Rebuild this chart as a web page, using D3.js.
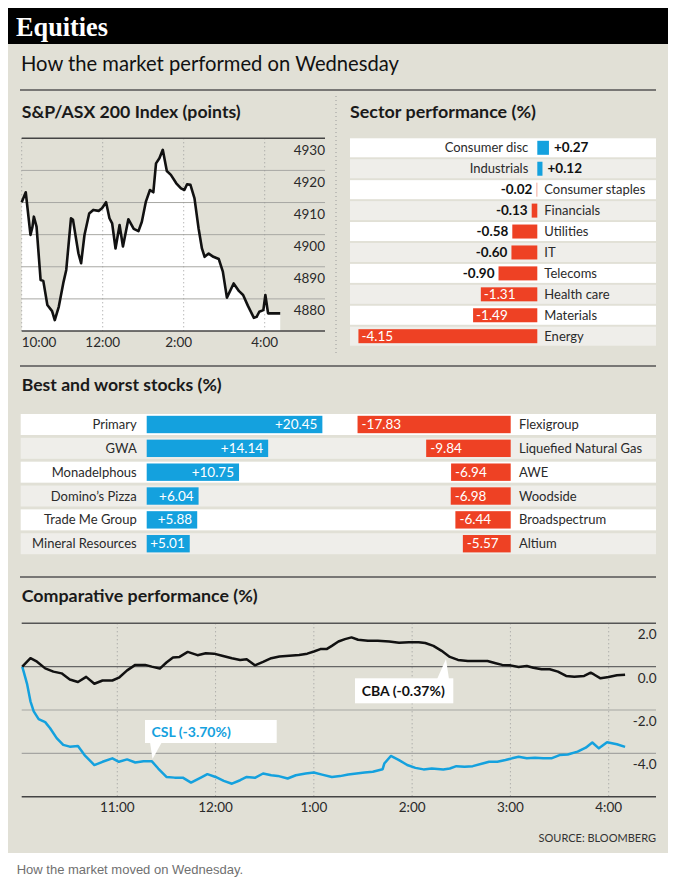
<!DOCTYPE html>
<html><head><meta charset="utf-8">
<script src="https://cdn.jsdelivr.net/npm/d3@7"></script>
<style>body{margin:0;background:#fff}svg{display:block}</style>
</head><body><svg id="c" width="676" height="882"></svg>
<script>
// ---------- DATA ----------
const spMinutes = [0,6,13,16,18,22,28,32,38,45,49,55,62,66,73,76,84,88,93,100,106,114,119,125,130,134,139,145,150,158,166,173,178,184,190,195,199,204,209,215,221,229,236,241,245,250,256,262,267,271,277,284,292,298,304,314,322,328,335,344,348,352,358,361,365,374,383];
const spPoints = [4910.1,4913.2,4899.9,4902.5,4905.6,4902.5,4885.9,4885.6,4878.1,4876.2,4873.4,4877.6,4885.3,4889.0,4905.1,4904.6,4894.2,4891.1,4899.9,4906.6,4907.7,4907.4,4908.2,4910.1,4905.1,4903.5,4895.7,4903.0,4896.3,4904.8,4901.8,4901.1,4904.0,4910.3,4913.9,4913.2,4922.2,4923.8,4926.4,4919.8,4918.6,4916.0,4914.4,4913.9,4915.7,4915.5,4911.3,4902.0,4895.7,4893.1,4894.1,4893.1,4892.4,4888.5,4880.4,4884.8,4882.4,4881.2,4877.9,4874.1,4874.4,4876.0,4876.5,4881.2,4875.5,4875.5,4875.5];
const spYTicks = [4930,4920,4910,4900,4890,4880];
const spXTicks = [0,120,240,360];
const spXLabels = ["10:00","12:00","2:00","4:00"];

const sectors = ["Consumer disc","Industrials","Consumer staples","Financials","Utilities","IT","Telecoms","Health care","Materials","Energy"];
const sectorChange = [0.27,0.12,-0.02,-0.13,-0.58,-0.60,-0.90,-1.31,-1.49,-4.15];

const bestStocks = ["Primary","GWA","Monadelphous","Domino\u2019s Pizza","Trade Me Group","Mineral Resources"];
const bestChange = [20.45,14.14,10.75,6.04,5.88,5.01];
const worstStocks = ["Flexigroup","Liquefied Natural Gas","AWE","Woodside","Broadspectrum","Altium"];
const worstChange = [-17.83,-9.84,-6.94,-6.98,-6.44,-5.57];

const cbaMinutes = [2,7,11,16,21,26,31,36,41,46,51,57,61,66,71,77,81,86,90,94,98,103,109,114,119,124,130,135,139,144,149,154,159,165,171,176,180,184,188,191,195,199,203,207,213,219,226,232,238,244,248,253,258,263,268,274,280,286,291,295,300,305,310,314,319,324,329,334,339,345,349,351,355,360,365,370];
const cbaChange = [0,0.39,0.23,-0.08,-0.23,-0.31,-0.59,-0.71,-0.47,-0.79,-0.64,-0.64,-0.51,-0.17,0.08,0.08,0,-0.09,0.19,0.42,0.45,0.68,0.53,0.62,0.60,0.50,0.39,0.31,0.34,0.06,0.22,0.39,0.47,0.50,0.54,0.60,0.70,0.81,0.82,0.96,1.16,1.27,1.35,1.24,1.19,1.19,1.16,1.10,1.13,1.13,1.09,0.96,0.73,0.45,0.31,0.26,0.26,0.26,0.16,0.08,0.06,-0.02,0.03,-0.05,-0.12,-0.12,-0.23,-0.43,-0.47,-0.43,-0.28,-0.36,-0.54,-0.48,-0.40,-0.37];
const cslMinutes = [2,5,7,9,12,16,19,23,27,31,36,40,46,51,57,61,66,71,76,81,85,90,95,100,105,111,115,120,125,130,135,139,144,149,154,158,164,169,175,180,185,191,196,201,206,211,216,222,223,227,232,237,242,247,252,259,263,267,272,277,283,287,292,297,301,305,310,315,320,325,330,335,341,346,350,354,359,365,370];
const cslChange = [0,-0.82,-1.60,-2.06,-2.42,-2.56,-2.84,-3.30,-3.61,-3.69,-3.66,-4.08,-4.54,-4.39,-4.23,-4.39,-4.28,-4.42,-4.36,-4.36,-4.70,-5.09,-5.12,-5.12,-5.35,-5.12,-4.96,-5.09,-5.27,-5.40,-5.24,-5.09,-5.13,-4.93,-5.01,-5.04,-5.16,-5.01,-4.93,-4.88,-4.98,-5.09,-5.05,-4.98,-4.93,-4.88,-4.85,-4.73,-4.47,-4.12,-4.31,-4.54,-4.67,-4.74,-4.70,-4.74,-4.70,-4.59,-4.62,-4.59,-4.47,-4.39,-4.39,-4.31,-4.23,-4.16,-4.23,-4.20,-4.23,-4.23,-4.08,-4.05,-3.92,-3.74,-3.50,-3.77,-3.49,-3.58,-3.70];
const cpYTicks = [2,0,-2,-4];
const cpXTicks = [60,120,180,240,300,360];
const cpXLabels = ["11:00","12:00","1:00","2:00","3:00","4:00"];

// ---------- STYLE ----------
const FONT = "Lato, 'Open Sans', sans-serif";
const BG = "#e1e0d6", ALT = "#efeeea", BLUE = "#14a1de", RED = "#ee4124", INK = "#2a2a2a";
const fmt = v => (v > 0 ? "+" : "-") + Math.abs(v).toFixed(2);

const svg = d3.select("#c");
svg.append("rect").attr("x",8).attr("y",8).attr("width",660).attr("height",845).attr("fill",BG);
svg.append("rect").attr("x",8).attr("y",8).attr("width",660).attr("height",36).attr("fill","#000");
svg.append("text").attr("x",16).attr("y",36).text("Equities")
  .attr("font-family","'Liberation Serif','DejaVu Serif',serif").attr("font-weight","bold")
  .attr("font-size",27).attr("fill","#fff").attr("textLength",92).attr("lengthAdjust","spacingAndGlyphs");
svg.append("text").attr("x",21).attr("y",71).text("How the market performed on Wednesday")
  .attr("font-family",FONT).attr("font-size",20.5).attr("fill","#111")
  .attr("textLength",378).attr("lengthAdjust","spacingAndGlyphs");

// separators
[90,366,577].forEach(y => svg.append("line").attr("x1",20).attr("x2",656).attr("y1",y).attr("y2",y)
  .attr("stroke","#555").attr("stroke-width",1.3));
svg.append("line").attr("x1",336).attr("x2",336).attr("y1",96).attr("y2",355)
  .attr("stroke","#9a9a9a").attr("stroke-dasharray","1,3");

function heading(x,y,t,w){
  svg.append("text").attr("x",x).attr("y",y).text(t).attr("font-family",FONT)
    .attr("font-weight","bold").attr("font-size",17.5).attr("fill","#1a1a1a")
    .attr("textLength",w).attr("lengthAdjust","spacingAndGlyphs");
}
heading(21.7,118,"S&P/ASX 200 Index (points)",219);
heading(350,118,"Sector performance (%)",186);
heading(21.7,391,"Best and worst stocks (%)",200);
heading(21.7,602,"Comparative performance (%)",236);

// ---------- S&P/ASX 200 ----------
const spX = d3.scaleLinear().domain([0,360]).range([21.7,264.7]);
const spY = d3.scaleLinear().domain([4870,4930]).range([331,138.3]);
const spData = spMinutes.map((m,i)=>({m, v: spPoints[i]}));
const sp = svg.append("g");
sp.append("path").datum(spData).attr("fill","#fff")
  .attr("d", d3.area().x(d=>spX(d.m)).y0(spY(4870)).y1(d=>spY(d.v)));
sp.selectAll("line.g").data([4920,4910,4900,4890,4880]).join("line")
  .attr("x1",21.7).attr("x2",325).attr("y1",d=>spY(d)).attr("y2",d=>spY(d))
  .attr("stroke","#a8a8a4").attr("stroke-width",1);
sp.selectAll("line.v").data(spXTicks).join("line")
  .attr("x1",d=>spX(d)).attr("x2",d=>spX(d)).attr("y1",spY(4930)).attr("y2",spY(4870))
  .attr("stroke","#9a9a9a").attr("stroke-dasharray","1,3");
[4930,4870].forEach(v => sp.append("line").attr("x1",21.7).attr("x2",325).attr("y1",spY(v)).attr("y2",spY(v))
  .attr("stroke","#444").attr("stroke-width",1.4));
sp.append("path").datum(spData).attr("fill","none").attr("stroke","#111").attr("stroke-width",2.6)
  .attr("stroke-linejoin","round").attr("d", d3.line().x(d=>spX(d.m)).y(d=>spY(d.v)));
sp.selectAll("text.y").data(spYTicks).join("text")
  .attr("x",325).attr("y",d=>spY(d)+16.5).attr("text-anchor","end").text(d=>d)
  .attr("font-family",FONT).attr("font-size",13.5).attr("fill",INK);
sp.selectAll("text.x").data(spXTicks).join("text")
  .attr("x",(d,i)=>spX(d)-(i===2?5:0)).attr("y",347).attr("text-anchor",(d,i)=>i===0?"start":"middle")
  .text((d,i)=>spXLabels[i]).attr("font-family",FONT).attr("font-size",13.5).attr("fill",INK);

// ---------- Sector performance ----------
const secY = d3.scaleBand().domain(sectors).range([138.3,345.7]).paddingInner(0.092).paddingOuter(0);
const secX = d3.scaleLinear().domain([-5,1]).range([537.3-5*43.1, 537.3+43.1]);
const sec = svg.append("g");
const secData = sectors.map((s,i)=>({s, v: sectorChange[i], i}));
sec.selectAll("rect.row").data(secData).join("rect")
  .attr("x",350).attr("width",306).attr("y",d=>secY(d.s)).attr("height",secY.bandwidth())
  .attr("fill",d=>d.i%2?ALT:"#fff");
sec.selectAll("rect.bar").data(secData).join("rect")
  .attr("x",d=>secX(Math.min(0,d.v))).attr("width",d=>Math.max(0.9,Math.abs(secX(d.v)-secX(0))))
  .attr("y",d=>secY(d.s)+2.5).attr("height",secY.bandwidth()-5)
  .attr("fill",d=>d.v>0?BLUE:(Math.abs(d.v)<0.05?"#f4a08f":RED));
const secMid = d => secY(d.s)+secY.bandwidth()/2+4.6;
sec.selectAll("text.cat").data(secData).join("text")
  .attr("x",d=>d.v>0?secX(0)-9:secX(0)+7).attr("text-anchor",d=>d.v>0?"end":"start")
  .attr("y",secMid).text(d=>d.s).attr("font-family",FONT).attr("font-size",13).attr("fill",INK);
sec.selectAll("text.val").data(secData).join("text")
  .attr("x",d=>d.v>0?secX(d.v)+5:(d.v<-1?secX(d.v)+3:secX(d.v)-4))
  .attr("text-anchor",d=>d.v>0||d.v<-1?"start":"end")
  .attr("y",secMid).text(d=>fmt(d.v)).attr("font-family",FONT).attr("font-size",13.5)
  .attr("font-weight",d=>d.v<-1?"normal":"bold").attr("fill",d=>d.v<-1?"#fff":"#111");

// ---------- Best and worst ----------
const bwY = d3.scaleBand().domain(d3.range(bestStocks.length)).range([414,554.2]).paddingInner(0.12).paddingOuter(0);
const posX = d3.scaleLinear().domain([0,25]).range([146.7,146.7+25*8.59]);
const negX = d3.scaleLinear().domain([-20,0]).range([510.7-20*8.59,510.7]);
const bw = svg.append("g");
const bwData = bestStocks.map((s,i)=>({i, b:s, bv:bestChange[i], w:worstStocks[i], wv:worstChange[i]}));
bw.selectAll("rect.row").data(bwData).join("rect")
  .attr("x",20.7).attr("width",635.3).attr("y",d=>bwY(d.i)).attr("height",bwY.bandwidth())
  .attr("fill",d=>d.i%2?ALT:"#fff");
bw.selectAll("rect.pb").data(bwData).join("rect")
  .attr("x",posX(0)).attr("width",d=>posX(d.bv)-posX(0))
  .attr("y",d=>bwY(d.i)+1.8).attr("height",bwY.bandwidth()-3.6).attr("fill",BLUE);
bw.selectAll("rect.nb").data(bwData).join("rect")
  .attr("x",d=>negX(d.wv)).attr("width",d=>negX(0)-negX(d.wv))
  .attr("y",d=>bwY(d.i)+1.8).attr("height",bwY.bandwidth()-3.6).attr("fill",RED);
const bwMid = d => bwY(d.i)+bwY.bandwidth()/2+4.6;
bw.selectAll("text.bn").data(bwData).join("text").attr("x",136.7).attr("y",bwMid)
  .attr("text-anchor","end").text(d=>d.b).attr("font-family",FONT).attr("font-size",13).attr("fill",INK);
bw.selectAll("text.wn").data(bwData).join("text").attr("x",519).attr("y",bwMid)
  .text(d=>d.w).attr("font-family",FONT).attr("font-size",13).attr("fill",INK);
bw.selectAll("text.bvl").data(bwData).join("text").attr("x",d=>posX(d.bv)-5).attr("y",bwMid)
  .attr("text-anchor","end").text(d=>fmt(d.bv)).attr("font-family",FONT).attr("font-size",13.5).attr("fill","#fff");
bw.selectAll("text.wvl").data(bwData).join("text").attr("x",d=>negX(d.wv)+4).attr("y",bwMid)
  .text(d=>fmt(d.wv)).attr("font-family",FONT).attr("font-size",13.5).attr("fill","#fff");

// ---------- Comparative performance ----------
const cpX = d3.scaleLinear().domain([0,360]).range([19,608.7]);
const cpY = d3.scaleLinear().domain([-6,2]).range([796.7,623.3]);
const cp = svg.append("g");
cp.selectAll("line.v").data(cpXTicks).join("line")
  .attr("x1",d=>cpX(d)).attr("x2",d=>cpX(d)).attr("y1",cpY(2)).attr("y2",cpY(-6))
  .attr("stroke","#9a9a9a").attr("stroke-dasharray","1,3");
[[-2,"#a5a5a2",1.2],[-4,"#a5a5a2",1.2],[0,"#666",1.3],[2,"#555",1.4],[-6,"#444",1.4]].forEach(([v,c,w]) =>
  cp.append("line").attr("x1",21.7).attr("x2",656).attr("y1",cpY(v)).attr("y2",cpY(v)).attr("stroke",c).attr("stroke-width",w));
cp.selectAll("text.y").data(cpYTicks).join("text")
  .attr("x",656.5).attr("y",d=>cpY(d)+16).attr("text-anchor","end").text(d=>(d<0?"-":"")+Math.abs(d).toFixed(1))
  .attr("font-family",FONT).attr("font-size",13.5).attr("fill",INK);
cp.selectAll("text.x").data(cpXTicks).join("text")
  .attr("x",d=>cpX(d)).attr("y",812).attr("text-anchor","middle").text((d,i)=>cpXLabels[i])
  .attr("font-family",FONT).attr("font-size",13.5).attr("fill",INK);
const cpLine = d3.line().x(d=>cpX(d.m)).y(d=>cpY(d.v));
cp.append("path").datum(cslMinutes.map((m,i)=>({m,v:cslChange[i]})))
  .attr("fill","none").attr("stroke",BLUE).attr("stroke-width",2.5).attr("stroke-linejoin","round").attr("d",cpLine);
cp.append("path").datum(cbaMinutes.map((m,i)=>({m,v:cbaChange[i]})))
  .attr("fill","none").attr("stroke","#111").attr("stroke-width",2.5).attr("stroke-linejoin","round").attr("d",cpLine);

// annotations
cp.append("rect").attr("x",145).attr("y",720).attr("width",131.7).attr("height",23).attr("fill","#fff");
cp.append("path").attr("d","M150,742 L162,742 L152.5,759 Z").attr("fill","#fff");
cp.append("text").attr("x",151.5).attr("y",736.5).text("CSL (-3.70%)").attr("font-family",FONT)
  .attr("font-weight","bold").attr("font-size",14).attr("fill",BLUE);
cp.append("rect").attr("x",355).attr("y",678.3).attr("width",98.3).attr("height",25).attr("fill","#fff");
cp.append("path").attr("d","M437,679.3 L449,679.3 L446,659 Z").attr("fill","#fff");
cp.append("text").attr("x",361.7).attr("y",696).text("CBA (-0.37%)").attr("font-family",FONT)
  .attr("font-weight","bold").attr("font-size",14).attr("fill","#111");

svg.append("text").attr("x",656).attr("y",842).attr("text-anchor","end").text("SOURCE: BLOOMBERG")
  .attr("font-family",FONT).attr("font-size",11).attr("fill","#333");
svg.append("text").attr("x",16.7).attr("y",874).text("How the market moved on Wednesday.")
  .attr("font-family","'Liberation Sans',Arial,sans-serif").attr("font-size",13).attr("fill","#707070");
</script></body></html>
